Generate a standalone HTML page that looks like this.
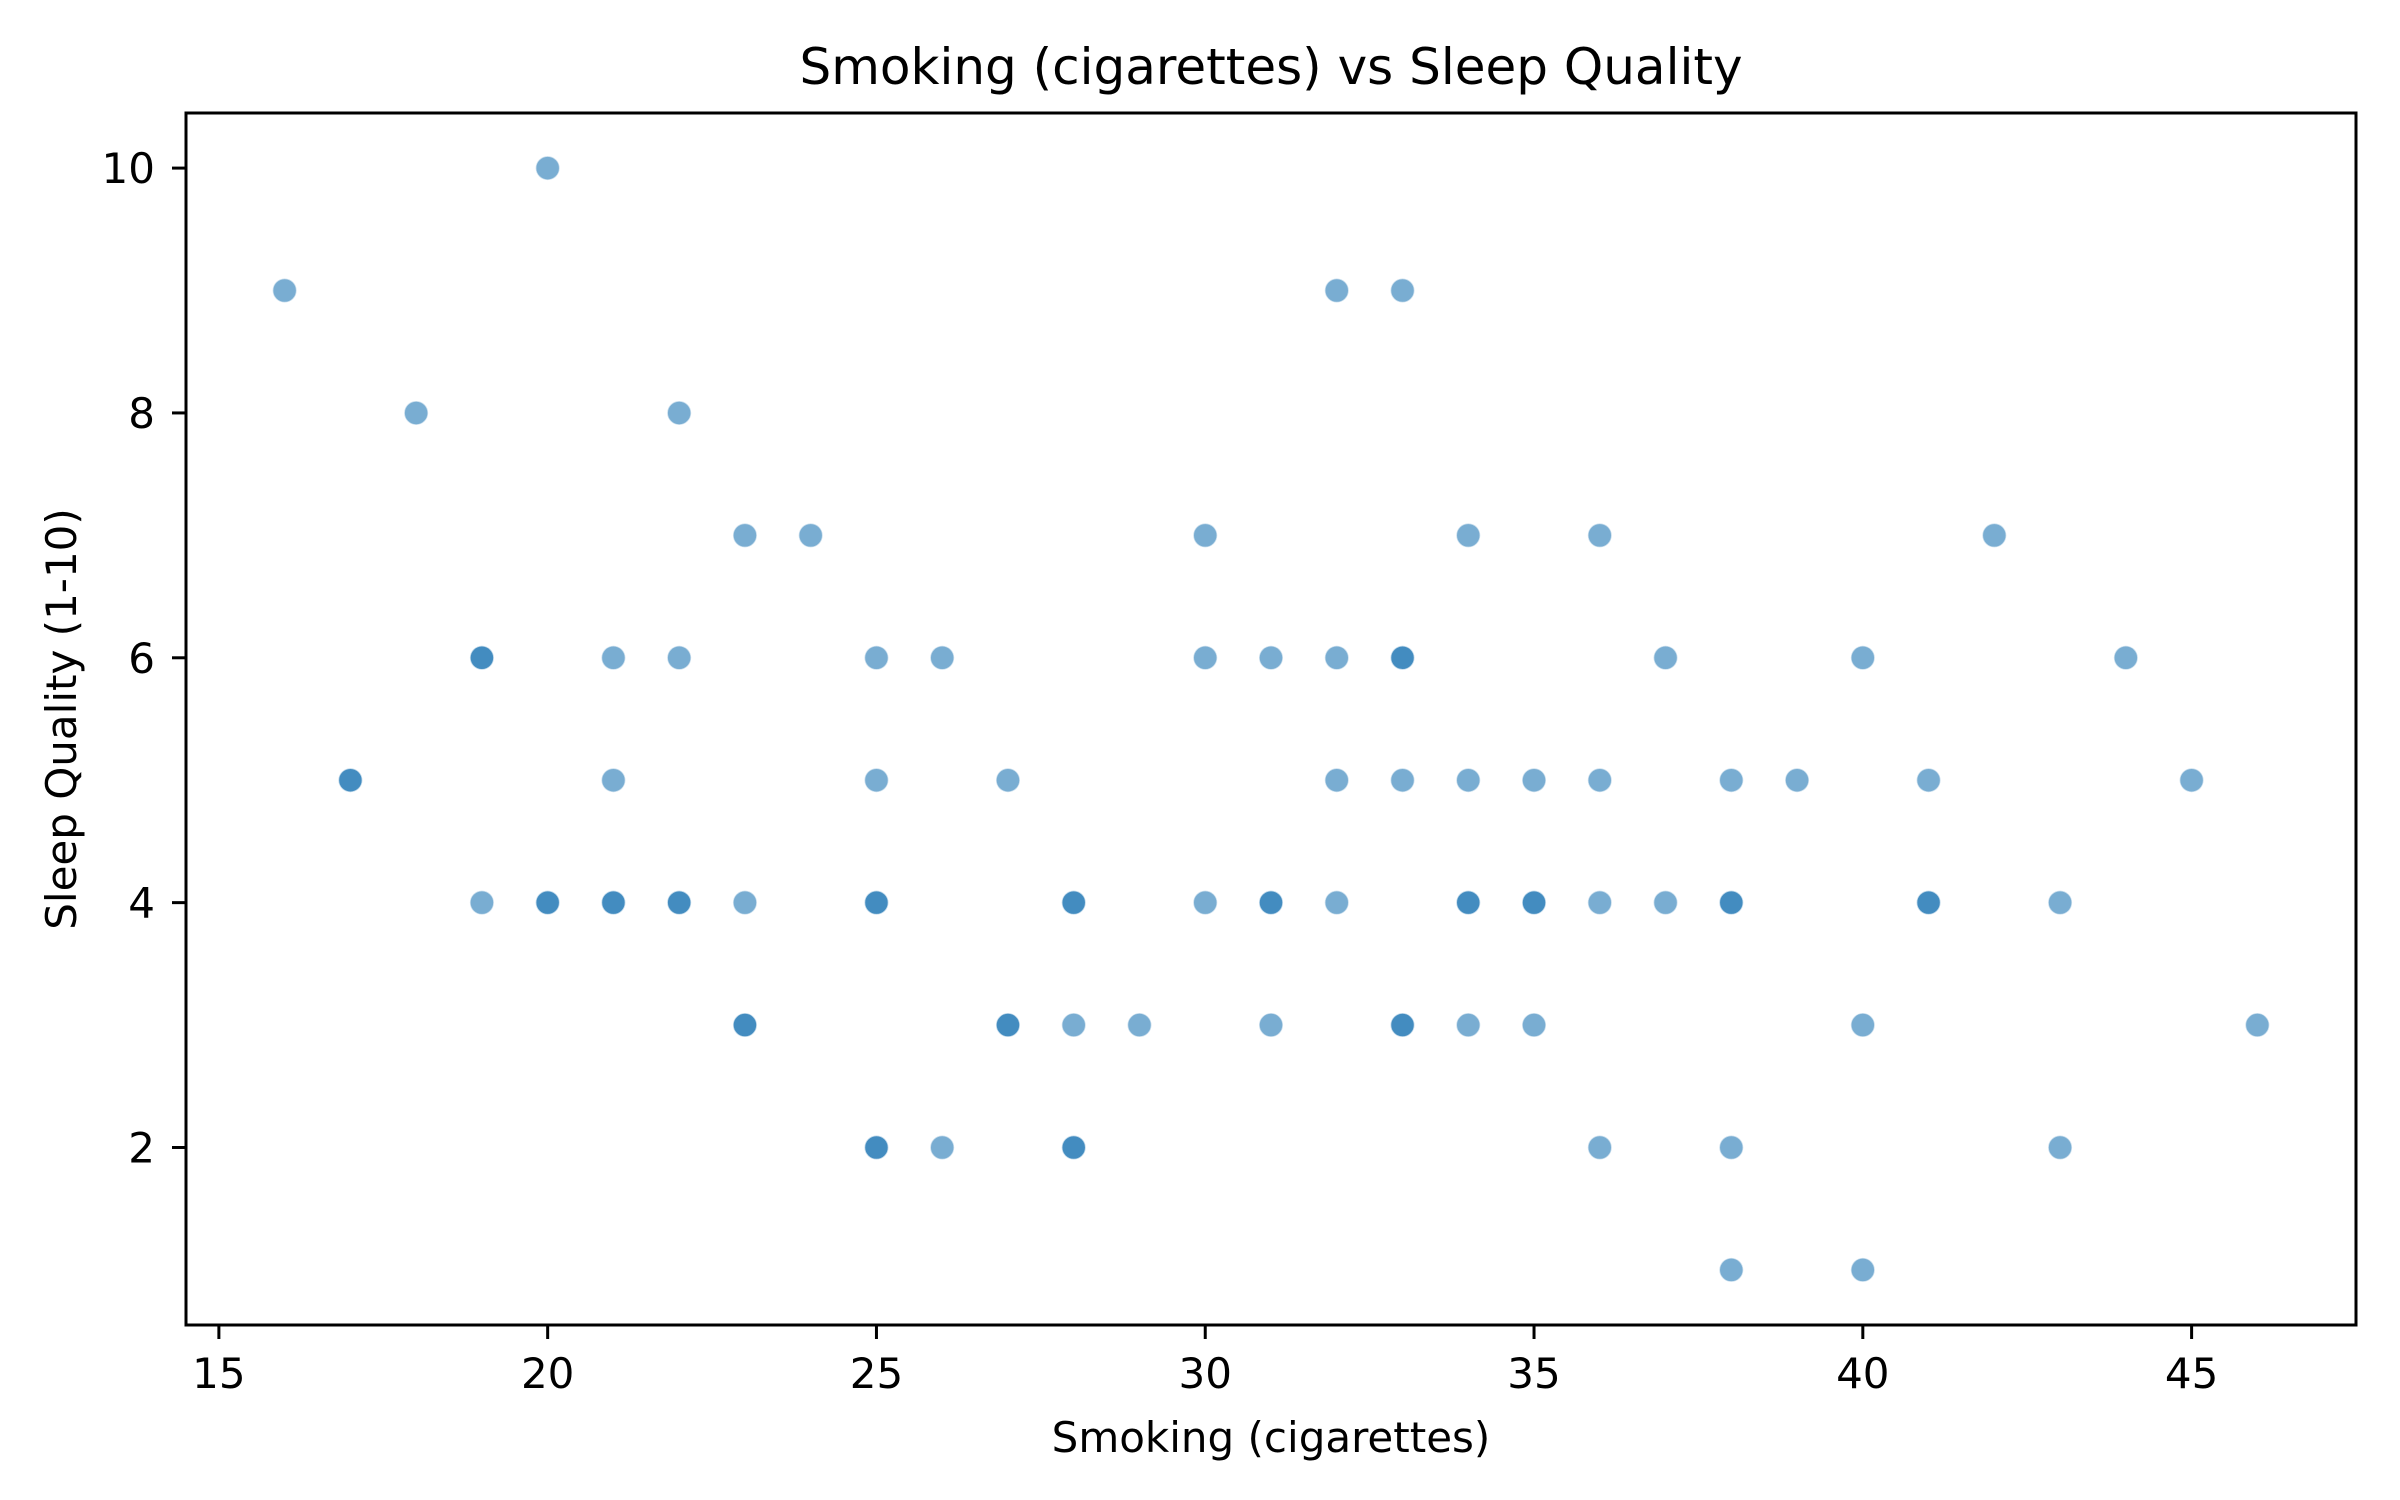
<!DOCTYPE html>
<html><head><meta charset="utf-8"><style>
html,body{margin:0;padding:0;background:#fff;}
svg{display:block;font-family:"DejaVu Sans","Liberation Sans",sans-serif;}
</style></head><body>
<svg id="chart" width="2400" height="1500" viewBox="0 0 2400 1500" xmlns="http://www.w3.org/2000/svg">
<rect width="2400" height="1500" fill="#fff"/>
<text x="1271" y="84" font-size="50" text-anchor="middle">Smoking (cigarettes) vs Sleep Quality</text>
<text x="1271" y="1452" font-size="42" text-anchor="middle">Smoking (cigarettes)</text>
<text x="0" y="0" font-size="42" text-anchor="middle" transform="translate(76,719) rotate(-90)">Sleep Quality (1-10)</text>
<g id="points"></g>
<g id="axes"></g>
<rect x="186" y="113" width="2170" height="1212" fill="none" stroke="#000" stroke-width="3"/>
</svg>
<script>
const smoking = [20,16,32,33,18,22,23,24,30,34,36,42,
 19,19,21,22,25,26,30,31,32,33,33,37,40,44,
 17,17,21,25,27,32,33,34,35,36,38,39,41,45,
 19,20,20,21,21,22,22,23,25,25,28,28,30,31,31,32,34,34,35,35,36,37,38,38,41,41,43,
 23,23,27,27,28,29,31,33,33,34,35,40,46,
 25,25,26,28,28,36,38,43,
 38,40];
const sleep = [10,9,9,9,8,8,7,7,7,7,7,7,
 6,6,6,6,6,6,6,6,6,6,6,6,6,6,
 5,5,5,5,5,5,5,5,5,5,5,5,5,5,
 4,4,4,4,4,4,4,4,4,4,4,4,4,4,4,4,4,4,4,4,4,4,4,4,4,4,4,
 3,3,3,3,3,3,3,3,3,3,3,3,3,
 2,2,2,2,2,2,2,2,
 1,1];
const xTicks = [15,20,25,30,35,40,45];
const yTicks = [2,4,6,8,10];

const L=186,R=2356,T=113,B=1325;
const xMin=14.5,xMax=47.5,yMin=0.55,yMax=10.45;
const sx=v=>L+(v-xMin)/(xMax-xMin)*(R-L);
const sy=v=>B-(v-yMin)/(yMax-yMin)*(B-T);
const NS="http://www.w3.org/2000/svg";
const pts=document.getElementById('points');
for(let i=0;i<smoking.length;i++){
  const c=document.createElementNS(NS,'circle');
  c.setAttribute('cx',sx(smoking[i]));
  c.setAttribute('cy',sy(sleep[i]));
  c.setAttribute('r',12);
  c.setAttribute('fill','rgba(31,119,180,0.6)');
  c.setAttribute('stroke','rgba(255,255,255,0.6)');
  c.setAttribute('stroke-width','1.5');
  
  
  pts.appendChild(c);
}
const ax=document.getElementById('axes');
xTicks.forEach(t=>{
  const x=sx(t);
  const l=document.createElementNS(NS,'line');
  l.setAttribute('x1',x);l.setAttribute('x2',x);l.setAttribute('y1',B);l.setAttribute('y2',B+14);
  l.setAttribute('stroke','#000');l.setAttribute('stroke-width','3');
  
  
  ax.appendChild(l);
  const tx=document.createElementNS(NS,'text');
  tx.setAttribute('x',x);tx.setAttribute('y',1388);
  tx.setAttribute('font-size','42');tx.setAttribute('text-anchor','middle');
  tx.textContent=t;
  
  
  ax.appendChild(tx);
});
yTicks.forEach(t=>{
  const y=sy(t);
  const l=document.createElementNS(NS,'line');
  l.setAttribute('x1',L-14);l.setAttribute('x2',L);l.setAttribute('y1',y);l.setAttribute('y2',y);
  l.setAttribute('stroke','#000');l.setAttribute('stroke-width','3');
  
  
  ax.appendChild(l);
  const tx=document.createElementNS(NS,'text');
  tx.setAttribute('x',155);tx.setAttribute('y',y+15);
  tx.setAttribute('font-size','42');tx.setAttribute('text-anchor','end');
  tx.textContent=t;
  
  
  ax.appendChild(tx);
});
</script>
</body></html>
